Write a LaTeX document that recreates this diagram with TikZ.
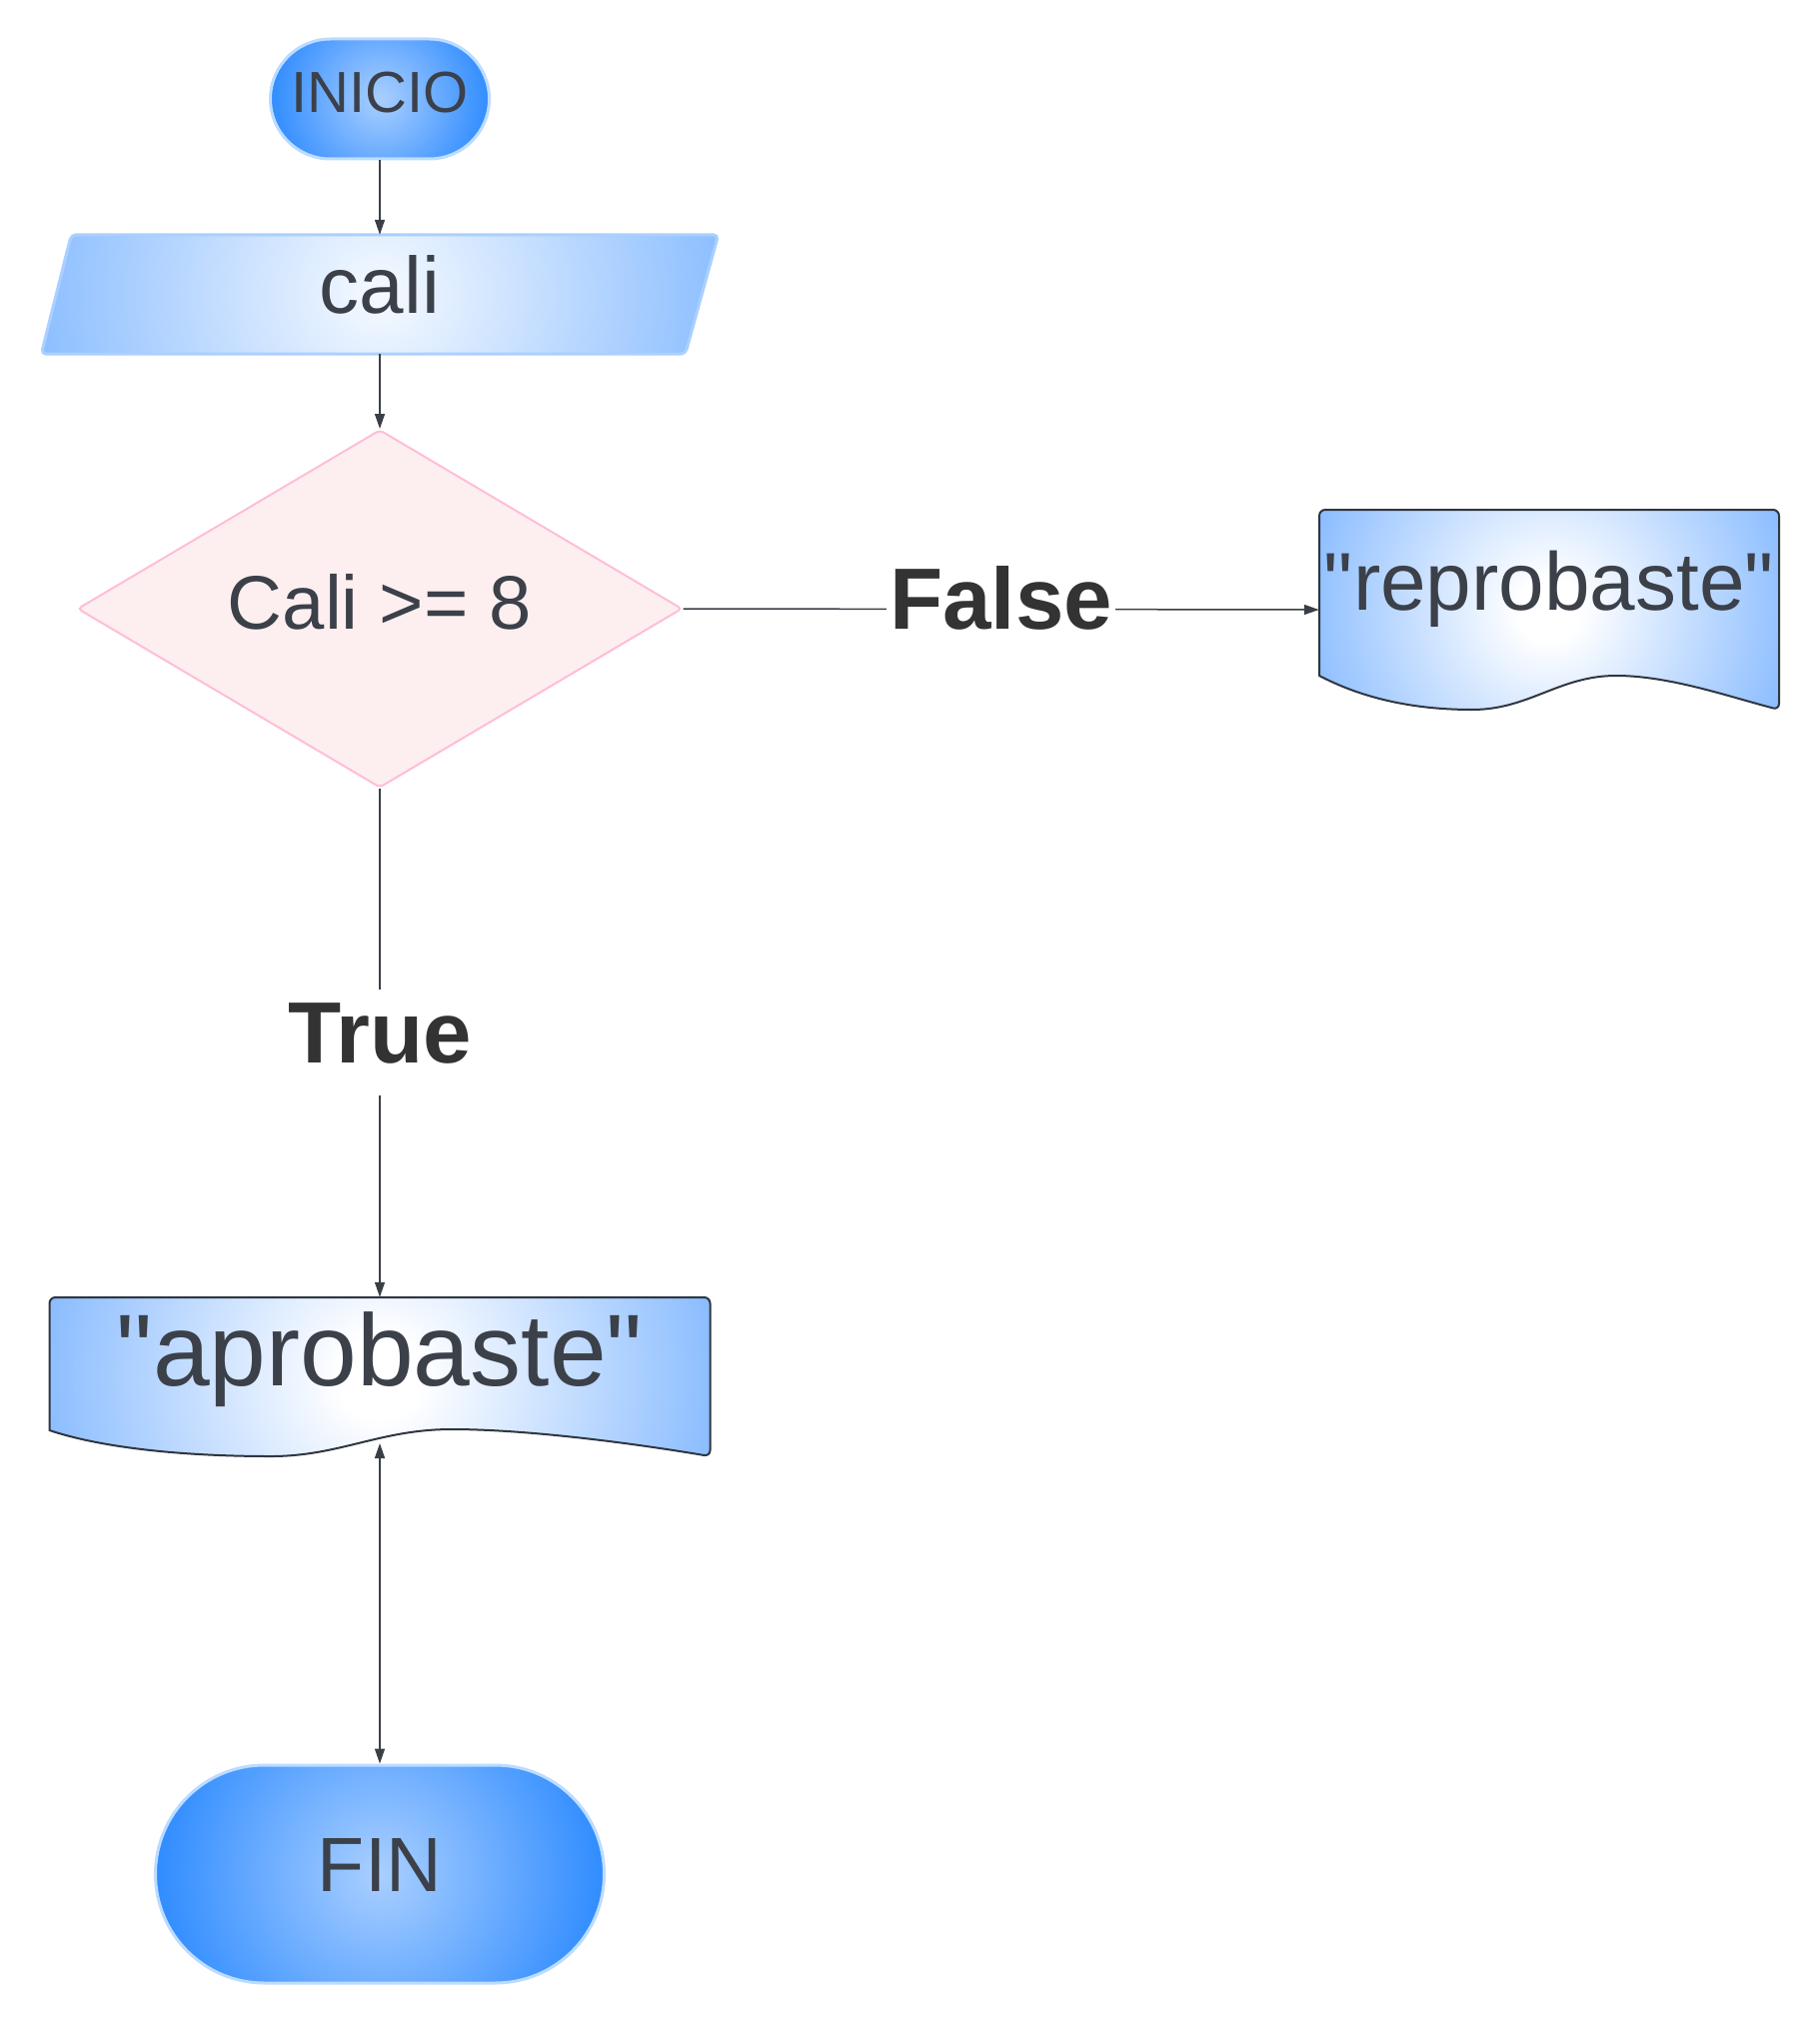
\documentclass[tikz,border=0pt]{standalone}
\usepackage{fontspec}
\setmainfont{Liberation Sans}[Ligatures=TeXOff]
\usetikzlibrary{shapes.geometric,arrows.meta,backgrounds}

\definecolor{txt}{HTML}{3B4049}
\definecolor{lblc}{HTML}{333333}
\definecolor{linec}{HTML}{3A3F47}
\definecolor{pillin}{HTML}{AACFFF}
\definecolor{pillout}{HTML}{2E8BFF}
\definecolor{pillborder}{HTML}{BCDCFF}
\definecolor{parain}{HTML}{F6FAFF}
\definecolor{paraout}{HTML}{8CBEFF}
\definecolor{paraborder}{HTML}{AAD0FF}
\definecolor{docout}{HTML}{88BBFF}
\definecolor{docborder}{HTML}{2F3640}
\definecolor{decfill}{HTML}{FDEFF0}
\definecolor{decborder}{HTML}{FFBDD8}

\pgfdeclareradialshading{pillshade}{\pgfpoint{0bp}{0bp}}{color(0bp)=(pillin); color(25bp)=(pillout); color(50bp)=(pillout)}
\pgfdeclareradialshading{parashade}{\pgfpoint{0bp}{0bp}}{color(0bp)=(parain); color(25bp)=(paraout); color(50bp)=(paraout)}
\pgfdeclareradialshading{docshade}{\pgfpoint{0bp}{0bp}}{color(0bp)=(white); color(3bp)=(white); color(25bp)=(docout); color(50bp)=(docout)}

\begin{document}
\begin{tikzpicture}[x=1pt,y=-1pt,
  pill/.style={rectangle, draw=pillborder, line width=3pt, text=txt, inner sep=0pt,
     path picture={\shade[shading=pillshade] (path picture bounding box.center) circle [radius=#1pt];}},
  box/.style={rectangle, draw=none, inner sep=0pt, text=txt},
  conn/.style={draw=linec, line width=1.5pt, -{Triangle[length=15pt,width=10pt]}},
  lbl/.style={fill=white, text=lblc, inner xsep=3pt, inner ysep=11pt, text height=62pt, text depth=22pt,
     font=\fontsize{87pt}{90pt}\selectfont\bfseries},
]
\useasboundingbox (0,0) rectangle (1820,2025);

\node[pill=112, minimum width=219pt, minimum height=120pt, rounded corners=60pt,
      text height=40pt, text depth=12pt, font=\fontsize{58pt}{60pt}\selectfont] (inicio) at (380,99) {INICIO};

\node[box, minimum width=677pt, minimum height=119pt, text height=58pt, text depth=21pt,
      font=\fontsize{80pt}{84pt}\selectfont] (cali) at (380,294.5) {cali};

\node[diamond, aspect=1.69, draw=decborder, fill=decfill, line width=2pt, rounded corners=4pt,
      minimum width=605pt, minimum height=358pt, inner sep=0pt, text=txt,
      text height=54pt, text depth=14pt, font=\fontsize{76pt}{80pt}\selectfont] (dec) at (380,609) {Cali >= 8};

\node[box, minimum width=460pt, minimum height=200pt, text height=30pt, text depth=30pt,
      font=\fontsize{82pt}{86pt}\selectfont] (reprob) at (1550,610) {"reprobaste"};

\node[box, minimum width=661pt, minimum height=159pt, text height=75pt, text depth=58pt,
      font=\fontsize{102pt}{106pt}\selectfont] (aprob) at (380,1377.5) {"aprobaste"};

\node[pill=228, minimum width=449pt, minimum height=218pt, rounded corners=109pt,
      text height=56pt, text depth=22pt, font=\fontsize{77pt}{80pt}\selectfont] (fin) at (380,1875) {FIN};

\coordinate (aprobwave) at (380,1444);

\begin{scope}[on background layer]
\path[draw=paraborder, line width=3pt, rounded corners=5pt,
      path picture={\shade[shading=parashade] (path picture bounding box.center) circle [radius=345pt];}]
  ([xshift=30pt]cali.north west) -- (cali.north east) -- ([xshift=-33pt]cali.south east) -- (cali.south west) -- cycle;

\path[draw=docborder, line width=2pt,
      path picture={\shade[shading=docshade] (path picture bounding box.center) circle [radius=255pt];}]
  (1320,676) [rounded corners=6pt] -- (1320,510) -- (1780,510) -- (1780,710) [sharp corners]
  .. controls (1730,697) and (1670,676) .. (1617,676)
  .. controls (1560,676) and (1530,710) .. (1473,710)
  .. controls (1410,710) and (1360,697) .. (1320,676) -- cycle;

\path[draw=docborder, line width=2pt,
      path picture={\shade[shading=docshade] (path picture bounding box.center) circle [radius=345pt];}]
  (49.5,1431) [rounded corners=6pt] -- (49.5,1298) -- (710.5,1298) -- (710.5,1457) [sharp corners]
  .. controls (640,1445) and (530,1430) .. (452,1430)
  .. controls (380,1430) and (340,1457) .. (271,1457)
  .. controls (180,1457) and (100,1448) .. (49.5,1431) -- cycle;
\end{scope}

\draw[conn] (inicio.south) -- (cali.north);
\draw[conn] (cali.south) -- (dec.north);
\draw[conn] (dec.south) -- node[lbl] (truelbl) {True} (aprob.north);
\draw[conn] (dec.east) -- node[lbl] (falselbl) {False} (reprob.west);
\draw[draw=linec, line width=1.5pt, {Triangle[length=15pt,width=10pt]}-{Triangle[length=15pt,width=10pt]}] (aprobwave) -- (fin.north);
\end{tikzpicture}
\end{document}
